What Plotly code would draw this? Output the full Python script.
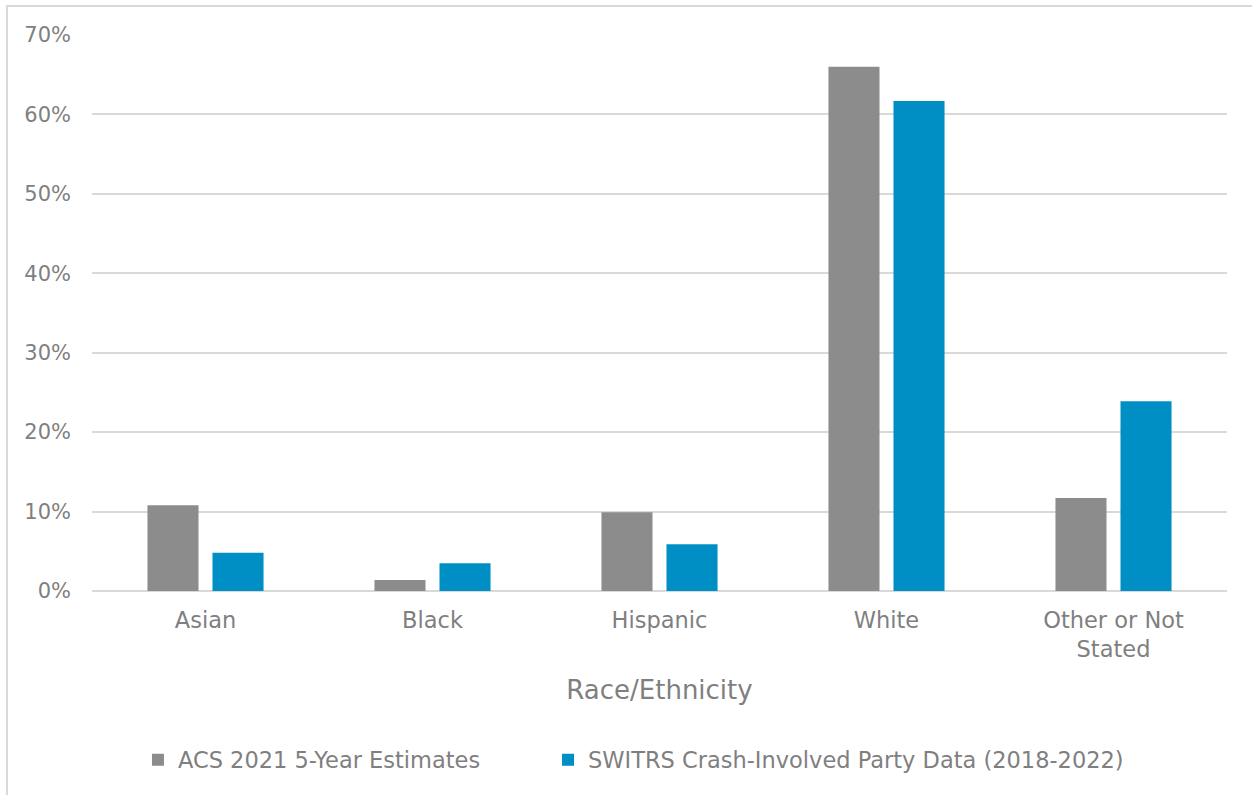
import plotly.graph_objects as go

categories = ["Asian", "Black", "Hispanic", "White", "Other or Not<br>Stated"]
acs_share = [10.8, 1.4, 9.9, 66.0, 11.7]
switrs_share = [4.8, 3.5, 5.9, 61.7, 23.9]
y_ticks = [0, 10, 20, 30, 40, 50, 60, 70]
y_tick_labels = ["0%", "10%", "20%", "30%", "40%", "50%", "60%", "70%"]

FONT = "Century Gothic, DejaVu Sans, sans-serif"
TEXT_GRAY = "#7f7f7f"
GRID = "#d9d9d9"

fig = go.Figure()
fig.add_trace(go.Bar(
    name="ACS 2021 5-Year Estimates",
    x=categories, y=acs_share,
    marker=dict(color="#8c8c8c", line=dict(width=0)),
    legend="legend",
))
fig.add_trace(go.Bar(
    name="SWITRS Crash-Involved Party Data (2018-2022)",
    x=categories, y=switrs_share,
    marker=dict(color="#008fc4", line=dict(width=0)),
    legend="legend2",
))

legend_common = dict(
    orientation="h", xanchor="left", y=-0.304, yanchor="middle",
    font=dict(size=22.5, color=TEXT_GRAY), itemwidth=30,
    bgcolor="rgba(0,0,0,0)",
)

fig.update_layout(
    width=1252, height=795,
    margin=dict(l=92, r=25, t=35, b=204),
    paper_bgcolor="white", plot_bgcolor="white",
    barmode="group", bargap=0.427, bargroupgap=0.215,
    font=dict(family=FONT, color=TEXT_GRAY, size=21),
    showlegend=True,
    legend=dict(x=0.0405, **legend_common),
    legend2=dict(x=0.4018, **legend_common),
    xaxis=dict(
        showgrid=False, showline=False, zeroline=False,
        ticks="", tickfont=dict(size=22.5, color=TEXT_GRAY), ticklabelstandoff=13,
        title=dict(text="Race/Ethnicity", font=dict(size=26, color=TEXT_GRAY), standoff=20),
    ),
    yaxis=dict(
        range=[0, 70], tickvals=y_ticks, ticktext=y_tick_labels,
        showgrid=True, gridcolor=GRID, gridwidth=1.5,
        zeroline=True, zerolinecolor=GRID, zerolinewidth=1.5,
        showline=False, ticks="", ticklabelstandoff=20,
        tickfont=dict(size=21, color=TEXT_GRAY),
    ),
    shapes=[dict(
        type="rect", xref="paper", yref="paper",
        x0=-0.0749, x1=1.3, y0=-0.5, y1=1.052,
        line=dict(color=GRID, width=2), fillcolor="rgba(0,0,0,0)", layer="below",
    )],
)

fig.write_html("out.html")
